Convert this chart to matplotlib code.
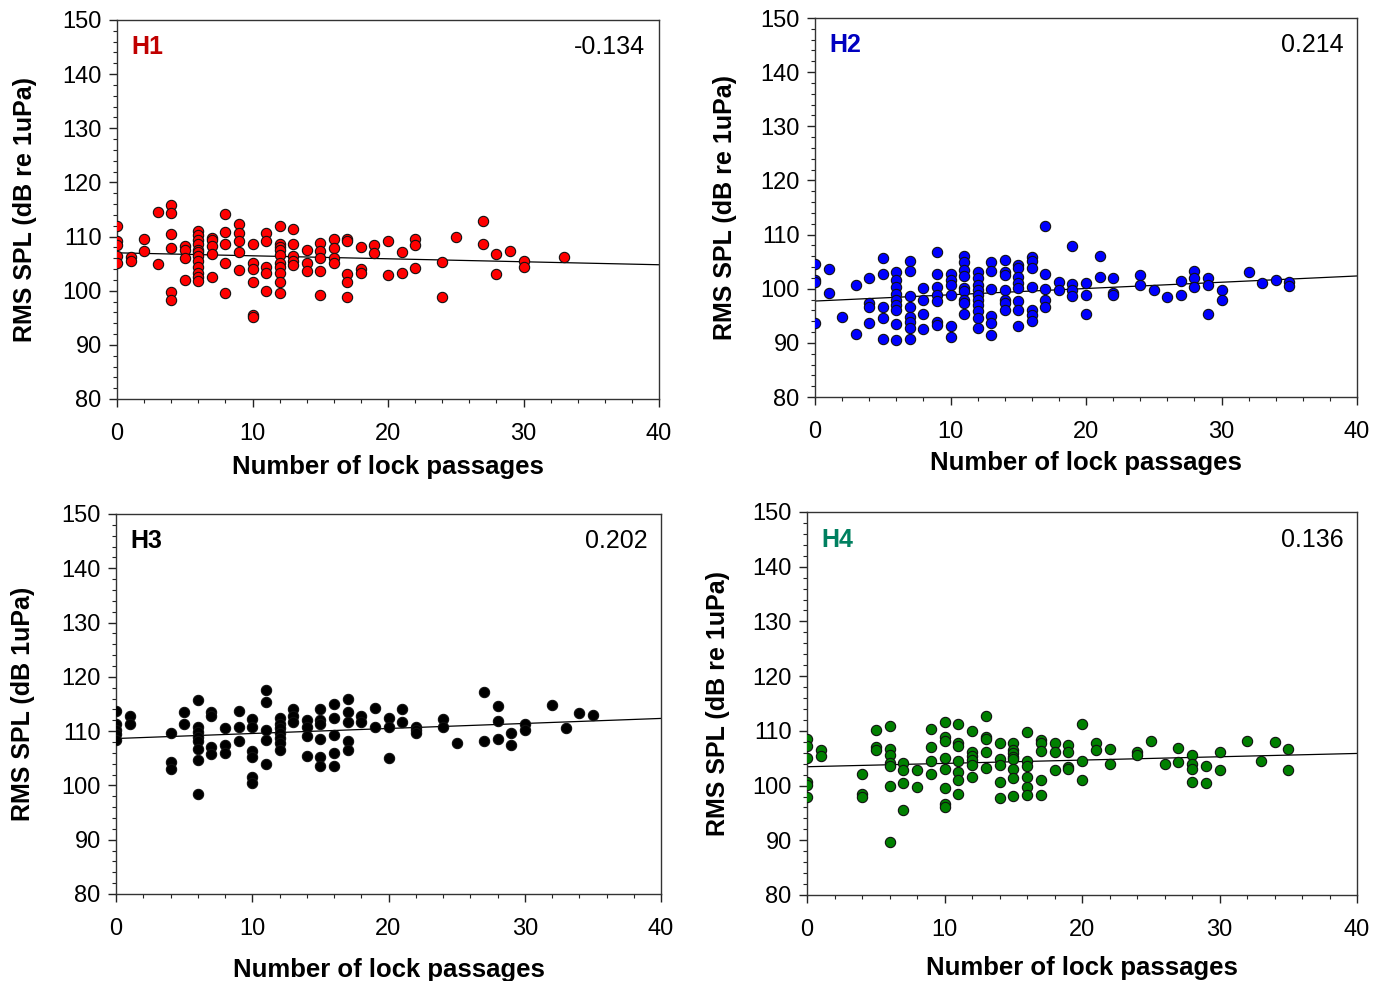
import numpy as np
import matplotlib
matplotlib.use("Agg")
import matplotlib.pyplot as plt
from matplotlib.ticker import MultipleLocator

plt.rcParams['font.family'] = ['Liberation Sans', 'DejaVu Sans']

# ---------------- data (x = number of lock passages, y = RMS SPL) ----------------
h1_x = [0,0,0,0,0, 1,1, 2,2, 3,3, 4,4,4,4,4,4, 5,5,5,5,
        6,6,6,6,6,6,6,6,6,6,6,6, 7,7,7,7,7, 8,8,8,8,8, 9,9,9,9,9,
        10,10,10,10,10,10, 11,11,11,11,11, 12,12,12,12,12,12,12,12,12,12,
        13,13,13,13,13, 14,14,14, 15,15,15,15,15, 16,16,16,16, 17,17,17,17,17,
        18,18,18, 19,19, 20,20, 21,21, 22,22,22, 24,24, 25, 27,27, 28,28, 29,
        30,30, 33]
h1_y = [112.0,109.1,108.4,106.4,105.2, 106.3,105.4, 109.5,107.3, 114.6,104.9,
        115.8,114.3,110.4,107.9,99.7,98.3, 108.3,107.5,106.0,102.0,
        111.1,110.3,109.4,108.7,107.6,107.2,106.4,105.4,104.3,103.3,102.5,101.8,
        109.7,109.4,108.3,106.8,102.5, 114.1,110.9,108.7,105.1,99.5,
        112.3,110.6,109.2,107.1,103.9, 108.7,105.2,104.1,101.7,95.5,95.2,
        110.6,109.2,104.4,103.2,99.9,
        112.0,108.7,108.1,107.5,106.6,105.2,104.3,103.2,101.7,99.6,
        111.4,108.7,106.4,105.5,104.7, 107.6,105.2,103.7,
        108.9,107.3,106.0,103.7,99.2, 109.5,107.8,106.0,105.1,
        109.5,109.2,103.1,101.7,98.8, 108.0,104.1,103.2, 108.4,107.0,
        109.2,102.9, 107.1,103.3, 109.5,108.4,104.2, 105.3,98.9, 109.9,
        112.9,108.6, 106.7,103.0, 107.3, 105.5,104.4, 106.3]

h2_x = [0,0,0,0, 1,1, 2, 3,3, 4,4,4,4, 5,5,5,5,5,
        6,6,6,6,6,6,6,6,6, 7,7,7,7,7,7,7,7, 8,8,8,8,
        9,9,9,9,9,9,9, 10,10,10,10,10,10,
        11,11,11,11,11,11,11,11,11, 12,12,12,12,12,12,12,12,12,12,
        13,13,13,13,13,13, 14,14,14,14,14,14,14,
        15,15,15,15,15,15,15,15, 16,16,16,16,16,16,16,
        17,17,17,17,17, 18,18, 19,19,19,19, 20,20,20,
        21,21, 22,22,22, 24,24, 25, 26, 27,27, 28,28,28, 29,29,29,
        30,30, 32, 33, 34, 35,35]
h2_y = [104.6,101.7,101.3,93.6, 103.6,99.3, 94.8, 100.7,91.7,
        101.9,97.4,96.6,93.7, 105.6,102.7,96.7,94.5,90.8,
        103.0,101.6,100.4,99.1,97.9,97.0,96.1,93.5,90.5,
        105.1,103.2,98.6,96.7,94.8,93.9,92.7,90.8, 100.2,97.9,95.3,92.5,
        106.8,102.7,100.4,98.8,97.8,93.9,93.3, 102.8,101.6,100.7,98.8,93.1,91.0,
        106.0,105.0,103.5,102.3,100.2,99.6,97.9,97.3,95.4,
        103.0,101.9,100.7,99.8,98.8,97.9,97.0,95.8,94.5,92.7,
        105.0,103.3,99.9,94.9,93.7,91.4, 105.3,103.0,102.5,99.8,97.9,97.4,96.1,
        104.4,103.8,102.2,101.1,100.1,97.8,96.1,93.1,
        105.9,105.2,103.8,100.3,96.1,95.1,94.1,
        111.6,102.7,99.9,97.9,96.7, 101.3,99.8, 107.8,100.9,99.8,98.6,
        101.0,98.8,95.4, 106.1,102.2, 101.9,99.3,98.8, 102.5,100.7, 99.8, 98.4,
        101.5,98.9, 103.3,101.9,100.3, 102.0,100.7,95.3, 99.8,97.9,
        103.1, 101.1, 101.6, 101.3,100.5]

h3_x = [0,0,0,0,0, 1,1, 4,4,4, 5,5, 6,6,6,6,6,6,6,6, 7,7,7,7, 8,8,8, 9,9,9,
        10,10,10,10,10,10, 11,11,11,11,11, 12,12,12,12,12,12,12, 13,13,13,
        14,14,14,14, 15,15,15,15,15,15, 16,16,16,16,16, 17,17,17,17,17,
        18,18, 19,19, 20,20,20, 21,21, 22,22,22, 24,24, 25, 27,27, 28,28,28,
        29,29, 30,30, 32, 33, 34, 35]
h3_y = [113.8,111.4,110.2,109.5,108.4, 112.7,111.3, 109.7,104.4,103.0, 113.5,111.4,
        115.7,110.8,109.9,109.0,108.1,106.8,104.7,98.5, 113.5,112.7,107.0,105.8,
        110.5,107.4,106.0, 113.8,110.8,108.1,
        112.2,110.7,106.4,105.3,101.5,100.5, 117.6,115.4,110.3,108.4,103.9,
        112.4,111.4,110.5,109.6,108.7,107.8,106.5, 114.0,112.7,111.6,
        112.1,110.8,109.1,105.4, 114.0,112.1,111.4,108.5,105.2,103.6,
        115.0,112.5,109.3,106.0,103.6, 115.9,113.6,111.6,108.1,106.5,
        112.7,111.7, 114.2,110.7, 112.4,110.7,105.0, 114.0,111.6, 110.8,110.2,109.7,
        112.2,110.8, 107.8, 117.2,108.2, 114.6,111.9,108.6, 109.6,107.4,
        111.3,110.3, 114.9, 110.5, 113.3, 113.0]

h4_x = [0,0,0,0,0,0, 1,1, 4,4,4, 5,5,5, 6,6,6,6,6,6,6, 7,7,7,7, 8,8, 9,9,9,9,
        10,10,10,10,10,10,10,10, 11,11,11,11,11,11,11, 12,12,12,12,12,12,
        13,13,13,13,13, 14,14,14,14,14, 15,15,15,15,15,15,15,15,
        16,16,16,16,16,16, 17,17,17,17,17, 18,18,18, 19,19,19,19, 20,20,20,
        21,21, 22,22, 24,24, 25, 26, 27,27, 28,28,28,28, 29,29, 30,30,
        32, 33, 34, 35,35]
h4_y = [108.6,107.3,105.1,100.7,100.1,98.0, 106.5,105.4, 102.1,98.4,98.0,
        110.2,107.0,106.5, 110.9,106.7,105.6,104.1,103.5,99.9,89.7,
        104.1,102.8,100.5,95.6, 102.8,99.7, 110.3,107.1,104.4,102.1,
        111.6,108.8,108.2,105.0,103.0,99.5,96.7,96.1,
        111.3,107.7,107.2,104.5,102.5,101.0,98.4,
        109.9,106.1,105.4,104.7,103.8,101.5, 112.7,108.9,108.5,106.1,103.3,
        107.7,104.8,103.8,100.7,97.7, 107.8,106.5,105.9,105.3,104.8,103.0,101.3,98.1,
        109.7,104.4,103.6,101.5,99.7,98.3, 108.3,107.7,106.4,101.1,98.3,
        107.7,106.1,102.8, 107.4,106.1,103.4,103.1, 111.3,104.4,101.1,
        107.8,106.5, 106.7,103.9, 106.2,105.6, 108.2, 103.9, 106.9,104.3,
        105.6,103.9,103.0,100.7, 103.6,100.5, 106.1,102.8,
        108.2, 104.4, 108.0, 106.7,102.9]

panels = ["H1", "H2", "H3", "H4"]
corr_labels = ["-0.134", "0.214", "0.202", "0.136"]
ylabels = ["RMS SPL (dB re 1uPa)", "RMS SPL (dB re 1uPa)",
           "RMS SPL (dB 1uPa)", "RMS SPL (dB re 1uPa)"]
xlabel = "Number of lock passages"

xs = [h1_x, h2_x, h3_x, h4_x]
ys = [h1_y, h2_y, h3_y, h4_y]

# ---------------- style ----------------
marker_fill = ["#ff0000", "#0000ff", "#000000", "#008000"]
title_color = ["#c00000", "#0000c0", "#000000", "#008060"]
positions = [
    [117/1376, 1-399/981, 542/1376, 379/981],
    [815/1376, 1-397/981, 542/1376, 379/981],
    [116/1376, 1-894/981, 545/1376, 380/981],
    [807/1376, 1-895/981, 550/1376, 383/981],
]
ylabel_pads = [18, 17, 19, 16]
xlabel_pads = [7.5, 6, 13.5, 11]

fig = plt.figure(figsize=(13.76, 9.81), dpi=100)

for i in range(4):
    ax = fig.add_axes(positions[i])
    x = np.array(xs[i], dtype=float)
    y = np.array(ys[i], dtype=float)
    ax.scatter(x, y, s=55, facecolor=marker_fill[i], edgecolor="#111111",
               linewidth=0.8, zorder=3)
    slope, intercept = np.polyfit(x, y, 1)
    xl = np.array([0, 40])
    ax.plot(xl, intercept + slope*xl, color="black", lw=0.9, zorder=2)

    ax.set_xlim(0, 40)
    ax.set_ylim(80, 150)
    ax.xaxis.set_major_locator(MultipleLocator(10))
    ax.xaxis.set_minor_locator(MultipleLocator(2))
    ax.yaxis.set_major_locator(MultipleLocator(10))
    ax.yaxis.set_minor_locator(MultipleLocator(2))
    ax.tick_params(axis="both", which="major", direction="out", length=6,
                   width=1, labelsize=17, pad=11, color="#222222")
    ax.tick_params(axis="both", which="minor", direction="out", length=3,
                   width=0.8, color="#222222")
    ax.tick_params(axis="y", which="major", pad=5)
    for sp in ax.spines.values():
        sp.set_color("#333333")
        sp.set_linewidth(1)

    ax.set_xlabel(xlabel, fontsize=18.5, fontweight="bold",
                  labelpad=xlabel_pads[i])
    ax.set_ylabel(ylabels[i], fontsize=18, fontweight="bold",
                  labelpad=ylabel_pads[i])

    ax.text(0.026, 0.928, panels[i], transform=ax.transAxes, fontsize=18,
            fontweight="bold", color=title_color[i], ha="left", va="center")
    ax.text(0.975, 0.928, corr_labels[i], transform=ax.transAxes, fontsize=18,
            color="black", ha="right", va="center")

fig.savefig("out.png", dpi=100)
